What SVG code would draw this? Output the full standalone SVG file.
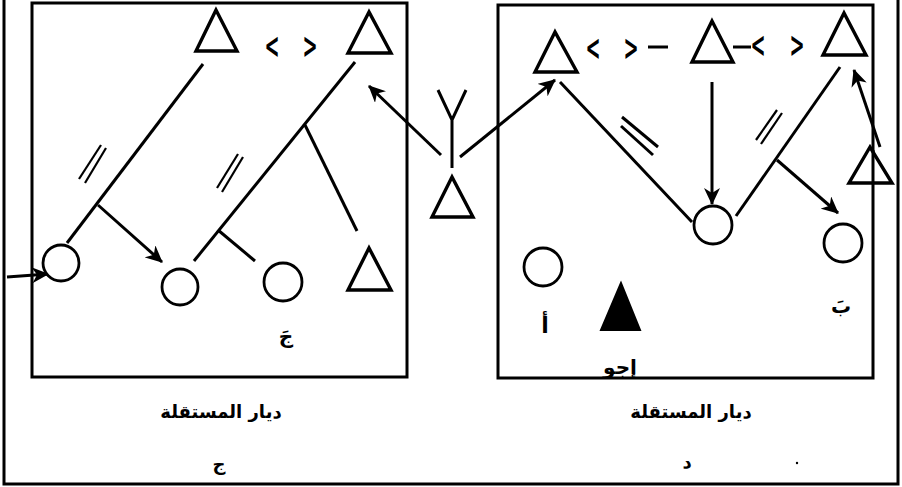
<svg xmlns="http://www.w3.org/2000/svg" width="902" height="487" viewBox="0 0 902 487">
<style>
.ln{stroke:#000;stroke-width:3;fill:none;stroke-linecap:butt}
.thin{stroke:#000;stroke-width:2.2;fill:none}
.tri{stroke:#000;stroke-width:3.4;fill:#fff;stroke-linejoin:miter}
.cir{stroke:#000;stroke-width:2.8;fill:#fff}
.box{stroke:#000;stroke-width:3;fill:none}
.ar{stroke:#000;stroke-width:3;fill:none;marker-end:url(#ah)}
.t{font-family:"DejaVu Sans",sans-serif;font-weight:bold;fill:#000;text-anchor:middle}
.br{font-family:"DejaVu Sans",sans-serif;font-weight:bold;fill:#000;text-anchor:middle;font-size:36px}
</style>
<defs>
<marker id="ah" markerUnits="userSpaceOnUse" markerWidth="18" markerHeight="16" refX="16" refY="8" orient="auto">
<path d="M0,0 L17,8 L0,16 L5,8 z" fill="#000"/>
</marker>
</defs>
<rect width="902" height="487" fill="#fff"/>
<g id="frame">
<path class="box" d="M4,0 V484 H898 V0"/>
</g>
<g id="panel-left">
<rect class="box" x="32" y="3" width="375" height="374"/>
</g>
<g id="panel-right">
<path class="box" d="M873,190 V5 H498 V378 H873 V183"/>
</g>
<g id="connectors">
<line class="ln" x1="203" y1="64" x2="67" y2="243"/>
<line class="ar" x1="98" y1="205" x2="162" y2="262"/>
<line class="ar" x1="7" y1="277" x2="48" y2="274"/>
<line class="ln" x1="355" y1="62" x2="194" y2="261"/>
<line class="ln" x1="305" y1="125" x2="357" y2="231"/>
<line class="ln" x1="218" y1="230" x2="255" y2="261"/>
<line class="thin" x1="79" y1="179" x2="101" y2="145"/>
<line class="thin" x1="85" y1="183" x2="106" y2="148"/>
<line class="thin" x1="217" y1="188" x2="238" y2="154"/>
<line class="thin" x1="222" y1="192" x2="243" y2="157"/>
<line class="ar" x1="441" y1="155" x2="369" y2="86"/>
<line class="ar" x1="460" y1="157" x2="555" y2="80"/>
<line class="ln" x1="560" y1="82" x2="692" y2="222"/>
<line class="ln" x1="622" y1="117" x2="658" y2="147"/>
<line class="ln" x1="621" y1="126" x2="653" y2="155"/>
<line class="ar" x1="712" y1="82" x2="712" y2="204"/>
<line class="ln" x1="736" y1="216" x2="840" y2="67"/>
<line class="ar" x1="777" y1="160" x2="838" y2="213"/>
<line class="thin" x1="756" y1="140" x2="777" y2="110"/>
<line class="thin" x1="761" y1="144" x2="782" y2="113"/>
<line class="ar" x1="880" y1="147" x2="854" y2="70"/>
</g>
<g id="node-l-tri1"><polygon class="tri" points="216,10 196,51 237,51"/></g>
<g id="node-l-op">
<text class="br" transform="translate(272,58) scale(0.5,1)">&lt;</text>
<text class="br" transform="translate(310,58) scale(0.5,1)">&gt;</text>
</g>
<g id="node-l-tri2"><polygon class="tri" points="369,12 348,53 391,53"/></g>
<g id="node-l-c1"><circle class="cir" cx="61" cy="263" r="18"/></g>
<g id="node-l-c2"><circle class="cir" cx="180" cy="287" r="18"/></g>
<g id="node-l-c3"><circle class="cir" cx="283" cy="282" r="19"/></g>
<g id="node-l-tri3"><polygon class="tri" points="369,248 348,290 391,290"/></g>
<g id="label-jim"><text class="t" x="286" y="343" font-size="20">جَ</text></g>
<g id="node-mid-ant">
<path class="ln" d="M438,90 L452,120 L466,90 M452,120 V168"/>
</g>
<g id="node-mid-tri"><polygon class="tri" points="452,177 432,217 473,217"/></g>
<g id="node-r-tri1"><polygon class="tri" points="555,32 535,72 577,72"/></g>
<g id="node-r-op1">
<text class="br" transform="translate(593,60) scale(0.5,1)">&lt;</text>
<text class="br" transform="translate(631,60) scale(0.5,1)">&gt;</text>
<line class="ln" x1="648" y1="47" x2="668" y2="47"/>
</g>
<g id="node-r-tri2"><polygon class="tri" points="712,21 692,62 733,62"/></g>
<g id="node-r-op2">
<line class="ln" x1="733" y1="47" x2="751" y2="47"/>
<text class="br" transform="translate(758,57) scale(0.5,1)">&lt;</text>
<text class="br" transform="translate(797,57) scale(0.5,1)">&gt;</text>
</g>
<g id="node-r-tri3"><polygon class="tri" points="844,13 823,55 866,55"/></g>
<g id="node-r-cmid"><circle class="cir" cx="713" cy="225" r="19"/></g>
<g id="node-r-cright"><circle class="cir" cx="843" cy="243" r="19"/></g>
<g id="node-r-tri4"><polygon class="tri" points="870,147 849,183 892,183"/><line class="box" x1="873" y1="150" x2="873" y2="183"/></g>
<g id="node-r-cleft"><circle class="cir" cx="543" cy="267" r="19"/></g>
<g id="node-r-filled"><polygon points="621,283 601,330 640,330" fill="#000" stroke="#000" stroke-width="2"/></g>
<g id="labels">
<text class="t" x="545" y="333" font-size="22">أ</text>
<text class="t" x="841" y="313" font-size="20">بَ</text>
<text class="t" x="620" y="374" font-size="20">إجو</text>
<text class="t" x="221" y="418" font-size="18">ديار المستقلة</text>
<text class="t" x="691" y="418" font-size="18">ديار المستقلة</text>
<text class="t" x="219" y="470" font-size="18">ج</text>
<text class="t" x="687" y="468" font-size="18">د</text>
<circle cx="797" cy="463" r="1.2" fill="#000"/>
</g>
</svg>
